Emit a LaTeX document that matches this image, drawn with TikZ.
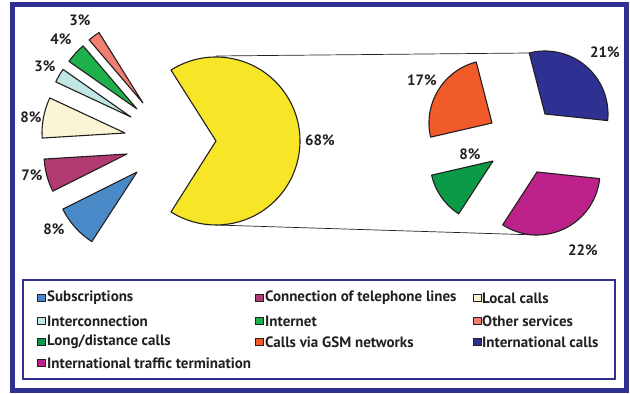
\documentclass[tikz,border=0pt]{standalone}
\usepackage{fontspec}
\setmainfont{PT Sans}
\definecolor{frame}{HTML}{2E3192}
\definecolor{cSalmon}{HTML}{F27E72}
\definecolor{cGreenA}{HTML}{1DB04B}
\definecolor{cLightBlue}{HTML}{C2E5E5}
\definecolor{cCream}{HTML}{FAF5D5}
\definecolor{cPurple}{HTML}{B23A73}
\definecolor{cBlue}{HTML}{4A89C8}
\definecolor{cYellow}{HTML}{F7E527}
\definecolor{cNavy}{HTML}{2E3192}
\definecolor{cOrange}{HTML}{F15A29}
\definecolor{cGreenB}{HTML}{0A9A48}
\definecolor{cMagenta}{HTML}{BC2289}
\definecolor{outl}{HTML}{231F20}
\newcommand\pieslice[5]{\draw[slice, fill=#5] (#1) -- ++(#2:#4) arc[start angle=#2, end angle=#3, radius=#4] -- cycle;}
\begin{document}
\begin{tikzpicture}[x=1pt,y=1pt,
  slice/.style={draw=outl, line width=1.1pt, line join=round},
  lbl/.style={font=\fontsize{15}{15}\selectfont\bfseries, text=outl, inner sep=0},
  leg/.style={font=\fontsize{15}{15}\selectfont\bfseries, text=outl, anchor=west, inner sep=0},
  mk/.style={draw=outl, line width=0.5pt, minimum size=7.5pt, inner sep=0},
  conn/.style={draw=outl, line width=0.7pt}]
\useasboundingbox (0,0) rectangle (630,394);
% outer frame
\draw[frame, line width=5pt] (12,389.5) rectangle (626.5,3);
% connectors
\coordinate (ytop) at (216,338);
\coordinate (ybot) at (216,169);
\coordinate (ntop) at (529.2,341);
\coordinate (mbot) at (537,159);
\draw[conn] (ytop) -- (ntop);
\draw[conn] (ybot) -- (mbot);
% left pie
\coordinate (yc) at (216,253);
\pieslice{yc}{122.4}{-122.4}{84}{cYellow}
\coordinate (t1) at (143,291);
\coordinate (t2) at (137,285);
\coordinate (t3) at (131,277);
\coordinate (t4) at (125,261);
\coordinate (t5) at (127,240);
\coordinate (t6) at (137,222);
\pieslice{t1}{122}{130.5}{83}{cSalmon}
\pieslice{t2}{130.5}{145}{83}{cGreenA}
\pieslice{t3}{145}{155}{83}{cLightBlue}
\pieslice{t4}{155}{183.5}{83}{cCream}
\pieslice{t5}{183.5}{206.6}{83}{cPurple}
\pieslice{t6}{206.6}{237}{83}{cBlue}
% right pie
\coordinate (r1) at (545,280);
\coordinate (r2) at (492,271);
\coordinate (r3) at (493,233);
\coordinate (r4) at (537,222);
\pieslice{r1}{-6}{104.5}{63}{cNavy}
\pieslice{r2}{104.5}{193}{63}{cOrange}
\pieslice{r3}{193}{237}{63}{cGreenB}
\pieslice{r4}{237}{354}{63}{cMagenta}
% labels
\node[lbl] (l1) at (80,374) {3\%};
\node[lbl] (l2) at (61,355) {4\%};
\node[lbl] (l3) at (45,328) {3\%};
\node[lbl] (l4) at (31,277) {8\%};
\node[lbl] (l5) at (32,219) {7\%};
\node[lbl] (l6) at (54,165) {8\%};
\node[lbl] (l7) at (320,254) {68\%};
\node[lbl] (l8) at (605,342) {21\%};
\node[lbl] (l9) at (422,314) {17\%};
\node[lbl] (l10) at (470,240) {8\%};
\node[lbl] (l11) at (583,144) {22\%};
% legend
\draw[frame, line width=1.2pt] (23,114) rectangle (615,15);
\node[mk, fill=cBlue] (m1) at (41,96) {};
\node[leg] (e1) at (47,96) {Subscriptions};
\node[mk, fill=cPurple] (m2) at (259,96) {};
\node[leg] (e2) at (265,96) {Connection of telephone lines};
\node[mk, fill=cCream] (m3) at (477,96) {};
\node[leg] (e3) at (482,96) {Local calls};
\node[mk, fill=cLightBlue] (m4) at (41,73) {};
\node[leg] (e4) at (47,73) {Interconnection};
\node[mk, fill=cGreenA] (m5) at (259,73) {};
\node[leg] (e5) at (265,73) {Internet};
\node[mk, fill=cSalmon] (m6) at (477,73) {};
\node[leg] (e6) at (482,73) {Other services};
\node[mk, fill=cGreenB] (m7) at (41,52) {};
\node[leg] (e7) at (47,52) {Long/distance calls};
\node[mk, fill=cOrange] (m8) at (259,52) {};
\node[leg] (e8) at (265,52) {Calls via GSM networks};
\node[mk, fill=cNavy] (m9) at (477,52) {};
\node[leg] (e9) at (482,52) {International calls};
\node[mk, fill=cMagenta] (m10) at (41,31) {};
\node[leg] (e10) at (47,31) {International traffic termination};
\end{tikzpicture}
\end{document}
